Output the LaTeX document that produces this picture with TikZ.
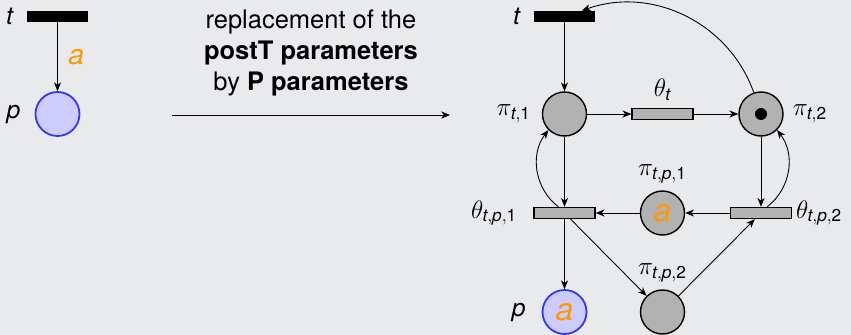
\documentclass[tikz,border=0pt]{standalone}
\usepackage{amsmath}
\usepackage{fontspec}
\setmainfont{TeX Gyre Heros}
\usetikzlibrary{positioning,arrows.meta}
\definecolor{bgc}{HTML}{E8EAEC}
\definecolor{plc}{gray}{0.70}
\definecolor{bluf}{HTML}{CCCCFF}
\definecolor{blud}{HTML}{3333FF}
\definecolor{orc}{HTML}{FF9900}
\tikzset{
  pl/.style={draw, circle, line width=0.8pt, fill=plc, minimum size=8.8mm, inner sep=0pt},
  bpl/.style={draw=blud, circle, line width=1pt, fill=bluf, minimum size=8.8mm, inner sep=0pt},
  tr/.style={draw, line width=0.8pt, fill=plc, minimum width=12.2mm, minimum height=2.2mm, inner sep=0pt},
  btr/.style={fill=black, minimum width=12.2mm, minimum height=2.2mm, inner sep=0pt},
  arc/.style={->, line width=0.5pt},
  lbl/.style={inner sep=1pt, font=\fontsize{14}{16}\selectfont}}
\newcommand{\tk}[1][18]{\textcolor{orc}{\fontsize{#1}{#1}\selectfont\textit{a}}}
\newcommand{\ix}[1]{\text{\itshape #1}}
\newcommand{\nm}[1]{\text{#1}}

\begin{document}
\begin{tikzpicture}[font=\fontsize{14.5}{17.6}\selectfont,
  >={Stealth[length=5pt, width=4pt, inset=1.5pt]}]
\useasboundingbox (0,0) rectangle (17.02,-6.7);
\fill[bgc] (0,0) rectangle (17.02,-6.7);
% the net before
\node[btr] (t0) at (1.15,-0.33) {};
\node[bpl] (p0) at (1.15,-2.28) {};
\node[lbl, left=6pt of t0] (t0l) {\textit{t}};
\node[lbl, left=7pt of p0] (p0l) {\textit{p}};
\draw[arc] (t0) -- node[lbl, right=5pt] (w0) {\tk[16]} (p0);
\node[align=center] (txt) at (6.22,-1.06) {replacement of the\\\textbf{postT parameters}\\by \textbf{P parameters}};
\coordinate (a0) at (3.44,-2.3); \coordinate (a1) at (9.0,-2.3);
\draw[arc] (a0) -- (a1);
% the net after
\node[btr] (t) at (11.29,-0.33) {};
\node[pl] (pi1) at (11.29,-2.28) {};
\node[tr] (th) at (13.25,-2.28) {};
\node[pl] (pi2) at (15.22,-2.28) {};
\node[circle, fill, inner sep=0pt, minimum size=2.4mm] (tok) at (pi2) {};
\node[tr] (thp1) at (11.29,-4.26) {};
\node[pl] (pip1) at (13.25,-4.26) {\tk};
\node[tr] (thp2) at (15.22,-4.26) {};
\node[bpl] (p) at (11.29,-6.24) {\tk};
\node[pl] (pip2) at (13.25,-6.24) {};
\node[lbl, left=6pt of t] (tl) {\textit{t}};
\node[lbl, left=5pt of pi1] (pi1l) {$\pi_{\ix{t},\nm{1}}$};
\node[lbl, above=3pt of th] (thl) {$\theta_{\ix{t}}$};
\node[lbl, right=4pt of pi2] (pi2l) {$\pi_{\ix{t},\nm{2}}$};
\node[lbl, left=8pt of thp1] (thp1l) {$\theta_{\ix{t},\ix{p},\nm{1}}$};
\node[lbl, above=3pt of pip1] (pip1l) {$\pi_{\ix{t},\ix{p},\nm{1}}$};
\node[lbl, right=1pt of thp2] (thp2l) {$\theta_{\ix{t},\ix{p},\nm{2}}$};
\node[lbl, left=8pt of p] (pl) {\textit{p}};
\node[lbl, above=3pt of pip2] (pip2l) {$\pi_{\ix{t},\ix{p},\nm{2}}$};
\foreach \a/\b in {t/pi1, pi1/th, th/pi2, pi1/thp1, pi2/thp2, thp2/pip1, pip1/thp1, thp1/p, thp1/pip2, pip2/thp2}
  \draw[arc] (\a) -- (\b);
\draw[arc] (pi2) to[bend right=45] (t);
\draw[arc] (thp1) to[bend left=45] (pi1);
\draw[arc] (thp2) to[bend right=45] (pi2);
\end{tikzpicture}
\end{document}
